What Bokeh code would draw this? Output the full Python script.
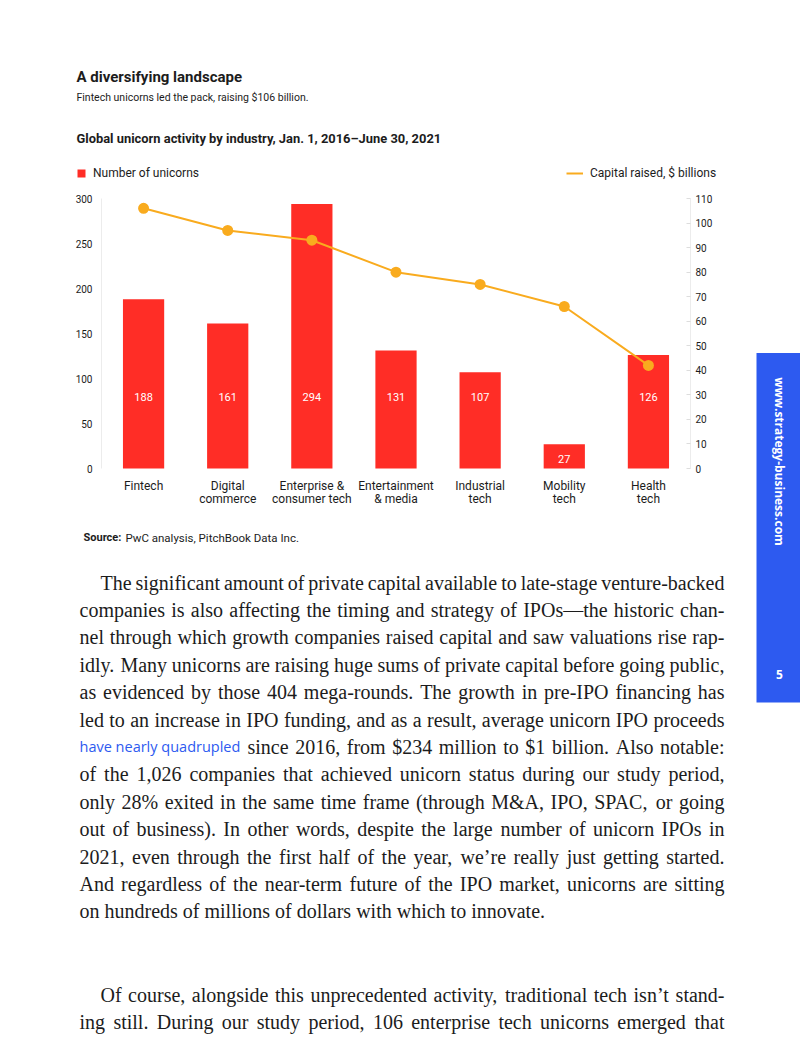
import math
from bokeh.plotting import figure
from bokeh.models import (Range1d, LinearAxis, Label, LabelSet, BoxAnnotation,
                          FixedTicker, ColumnDataSource, Legend, LegendItem)
from bokeh.core.properties import value
from bokeh.embed import file_html
from bokeh.resources import INLINE

# ---------------- data ----------------
industries = ["Fintech", "Digital\ncommerce", "Enterprise &\nconsumer tech",
              "Entertainment\n& media", "Industrial\ntech", "Mobility\ntech", "Health\ntech"]
unicorns = [188, 161, 294, 131, 107, 27, 126]
capital = [106, 97, 93, 80, 75, 66, 42]
left_ticks = [0, 50, 100, 150, 200, 250, 300]
right_ticks = [0, 10, 20, 30, 40, 50, 60, 70, 80, 90, 100, 110]

title = "A diversifying landscape"
subtitle = "Fintech unicorns led the pack, raising $106 billion."
chart_title = "Global unicorn activity by industry, Jan. 1, 2016\u2013June 30, 2021"
legend_bar = "Number of unicorns"
legend_line = "Capital raised, $ billions"
source_lead = "Source:"
source_rest = "PwC analysis, PitchBook Data Inc."
link_text = "have nearly quadrupled"
para1 = [
    "The significant amount of private capital available to late-stage venture-backed",
    "companies is also affecting the timing and strategy of IPOs\u2014the historic chan-",
    "nel through which growth companies raised capital and saw valuations rise rap-",
    "idly. Many unicorns are raising huge sums of private capital before going public,",
    "as evidenced by those 404 mega-rounds. The growth in pre-IPO financing has",
    "led to an increase in IPO funding, and as a result, average unicorn IPO proceeds",
    "since 2016, from $234 million to $1 billion. Also notable:",
    "of the 1,026 companies that achieved unicorn status during our study period,",
    "only 28% exited in the same time frame (through M&A, IPO, SPAC, or going",
    "out of business). In other words, despite the large number of unicorn IPOs in",
    "2021, even through the first half of the year, we\u2019re really just getting started.",
    "And regardless of the near-term future of the IPO market, unicorns are sitting",
    "on hundreds of millions of dollars with which to innovate.",
]
para2 = [
    "Of course, alongside this unprecedented activity, traditional tech isn\u2019t stand-",
    "ing still. During our study period, 106 enterprise tech unicorns emerged that",
]
side_text = "www.strategy-business.com"
page_no = "5"

# ---------------- styles ----------------
SANS = "Roboto"
SERIF = "Liberation Serif"
INK = "#1c1c1c"
RED = "#ff2d26"
ORANGE = "#f9ab1e"
BLUE = "#2d5af0"

W, H = 800, 1050
CL, CR, CT, CB = 101, 690, 198, 468   # chart area in page pixels
n = len(industries)
idx = list(range(n))
ux = (CR - CL) / n
uy = (CB - CT) / left_ticks[-1]
ur = (CB - CT) / right_ticks[-1]

p = figure(width=W, height=H,
           x_range=Range1d(-0.5 - CL / ux, n - 0.5 + (W - CR) / ux),
           y_range=Range1d(-(H - CB) / uy, CB / uy),
           output_backend="svg", toolbar_location=None, min_border=0)
p.outline_line_color = None
p.xgrid.visible = False
p.ygrid.visible = False
p.background_fill_color = "white"
p.border_fill_color = "white"
p.extra_y_ranges = {"cap": Range1d(-(H - CB) / ur, CB / ur)}

src = ColumnDataSource(dict(x=idx, n=unicorns, c=capital,
                            ly=[79 if v > 100 else v * 0.4 for v in unicorns],
                            t=[str(v) for v in unicorns]))
bars = p.vbar(x="x", top="n", width=0.49, source=src, fill_color=RED, line_color=None)
line = p.line(x="x", y="c", source=src, y_range_name="cap", line_color=ORANGE, line_width=2)
p.scatter(x="x", y="c", source=src, y_range_name="cap", size=11,
          fill_color=ORANGE, line_color=None)

p.add_layout(LabelSet(x="x", y="ly", text="t", source=src, text_color="white",
                      text_font=value(SANS), text_font_size="11px", text_align="center",
                      text_baseline="middle"))

# left axis
ya = p.yaxis[0]
ya.fixed_location = -0.5
ya.bounds = (0, left_ticks[-1])
ya.ticker = FixedTicker(ticks=left_ticks)
ya.axis_line_color = "#ececec"
ya.major_tick_line_color = None
ya.major_tick_out = 0
ya.major_tick_in = 0
ya.minor_tick_line_color = None
ya.major_label_standoff = 9
ya.major_label_text_font = SANS
ya.major_label_text_font_size = "10px"
ya.major_label_text_color = INK

# right axis
ra = LinearAxis(y_range_name="cap", ticker=FixedTicker(ticks=right_ticks))
ra.fixed_location = n - 0.5
ra.bounds = (0, right_ticks[-1])
ra.axis_line_color = "#ececec"
ra.major_tick_line_color = "#dddddd"
ra.major_tick_in = 4
ra.major_tick_out = 0
ra.minor_tick_line_color = None
ra.major_label_standoff = 5
ra.major_label_text_font = SANS
ra.major_label_text_font_size = "10px"
ra.major_label_text_color = INK
p.add_layout(ra, "right")

# category axis
xa = p.xaxis[0]
xa.fixed_location = 0
xa.ticker = FixedTicker(ticks=idx)
xa.major_label_overrides = {i: name for i, name in enumerate(industries)}
xa.axis_line_color = None
xa.major_tick_line_color = None
xa.major_tick_out = 0
xa.major_tick_in = 0
xa.minor_tick_line_color = None
xa.major_label_standoff = 10
xa.major_label_text_font = SANS
xa.major_label_text_font_size = "12px"
xa.major_label_text_color = INK
xa.major_label_text_line_height = 0.95

def sx(X):
    return X

def sy(Y):
    return H - Y

# legends
for items, X, gw in (([LegendItem(label=legend_bar, renderers=[bars])], 76, 10),
                     ([LegendItem(label=legend_line, renderers=[line])], 566, 17)):
    lg = Legend(items=items, location=(sx(X), sy(180)), orientation="horizontal",
                glyph_width=gw, glyph_height=10, label_height=12, label_width=10,
                padding=0, margin=0, spacing=0, label_standoff=7,
                border_line_color=None, background_fill_alpha=0,
                label_text_font=SANS, label_text_font_size="12px",
                label_text_color=INK)
    p.add_layout(lg)

def lab(X, Y, text, size, font=SANS, style="normal", color=INK, align="left", angle=0):
    p.add_layout(Label(x=sx(X), y=sy(Y), x_units="screen", y_units="screen", text=text,
                       text_font=font, text_font_size=size, text_font_style=style,
                       text_color=color, text_align=align, text_baseline="middle",
                       angle=angle))

lab(76, 76, title, "15px", style="bold")
lab(76, 97, subtitle, "10.5px")
lab(76, 138, chart_title, "12.9px", style="bold")
lab(83, 537, source_lead, "11px", style="bold")
lab(125, 537, source_rest, "11.5px")

# ---------------- justified body text ----------------
BODY_PX = 20.0
EM = {' ': .25, '.': .25, ',': .25, ':': .278, ';': .278, '-': .333, '\u2014': 1.0,
      '\u2019': .333, '(': .333, ')': .333, '$': .5, '%': .833, '&': .778}
EM.update({c: w for c, w in zip("abcdefghijklmnopqrstuvwxyz",
    [.444, .5, .444, .5, .444, .333, .5, .5, .278, .278, .5, .278, .778, .5, .5, .5, .5,
     .333, .389, .278, .5, .5, .722, .5, .5, .444])})
EM.update({c: w for c, w in zip("ABCDEFGHIJKLMNOPQRSTUVWXYZ",
    [.722, .667, .667, .722, .611, .556, .722, .722, .333, .389, .722, .611, .889, .722,
     .722, .556, .722, .667, .556, .611, .722, .722, .944, .722, .722, .611])})

def wwidth(word):
    return sum(EM.get(ch, .5) for ch in word) * BODY_PX

LEFT, RIGHT, INDENT, LEAD = 79, 724, 100, 27.4
LINK_W = 161.4
lx, ly, lt, rx, ry, rt = [], [], [], [], [], []

def set_line(txt, X, Y, justify, lead_w=0.0):
    words = txt.split(" ")
    widths = [wwidth(w) for w in words]
    start = X + lead_w
    if lead_w:
        count_gaps = len(words)
    else:
        count_gaps = len(words) - 1
    if justify and count_gaps > 0:
        gap = (RIGHT - start - sum(widths)) / count_gaps
    else:
        gap = EM[' '] * BODY_PX
    pos = start + (gap if lead_w else 0)
    for k, (w, wd) in enumerate(zip(words, widths)):
        if justify and k == len(words) - 1:
            rx.append(RIGHT); ry.append(sy(Y)); rt.append(w)
        else:
            lx.append(pos); ly.append(sy(Y)); lt.append(w)
        pos += wd + gap

for i, txt in enumerate(para1):
    Y = 582 + LEAD * i
    X = INDENT if i == 0 else LEFT
    last = i == len(para1) - 1
    if i == 6:
        lab(LEFT, Y, link_text, "14.5px", font="Open Sans", color=BLUE)
        set_line(txt, LEFT, Y, True, lead_w=LINK_W)
    else:
        set_line(txt, X, Y, not last)
for i, txt in enumerate(para2):
    set_line(txt, INDENT if i == 0 else LEFT, 994 + LEAD * i, True)

for xs_, ys_, ts_, al in ((lx, ly, lt, "left"), (rx, ry, rt, "right")):
    p.add_layout(LabelSet(x="x", y="y", text="t", x_units="screen", y_units="screen",
                          source=ColumnDataSource(dict(x=xs_, y=ys_, t=ts_)),
                          text_font=value(SERIF), text_font_size=f"{BODY_PX}px",
                          text_color=INK, text_align=al, text_baseline="middle"))

# sidebar
p.add_layout(BoxAnnotation(left=sx(756), right=sx(800), top=sy(352.5), bottom=sy(702),
                           left_units="screen", right_units="screen",
                           top_units="screen", bottom_units="screen",
                           fill_color=BLUE, fill_alpha=1, line_color=None))
lab(779, 461, side_text, "12px", font="Open Sans", style="bold", color="white",
    align="center", angle=-math.pi / 2)
lab(779, 674, page_no, "12px", font="Open Sans", style="bold", color="white", align="center")

open("out.html", "w").write(file_html(p, INLINE))
